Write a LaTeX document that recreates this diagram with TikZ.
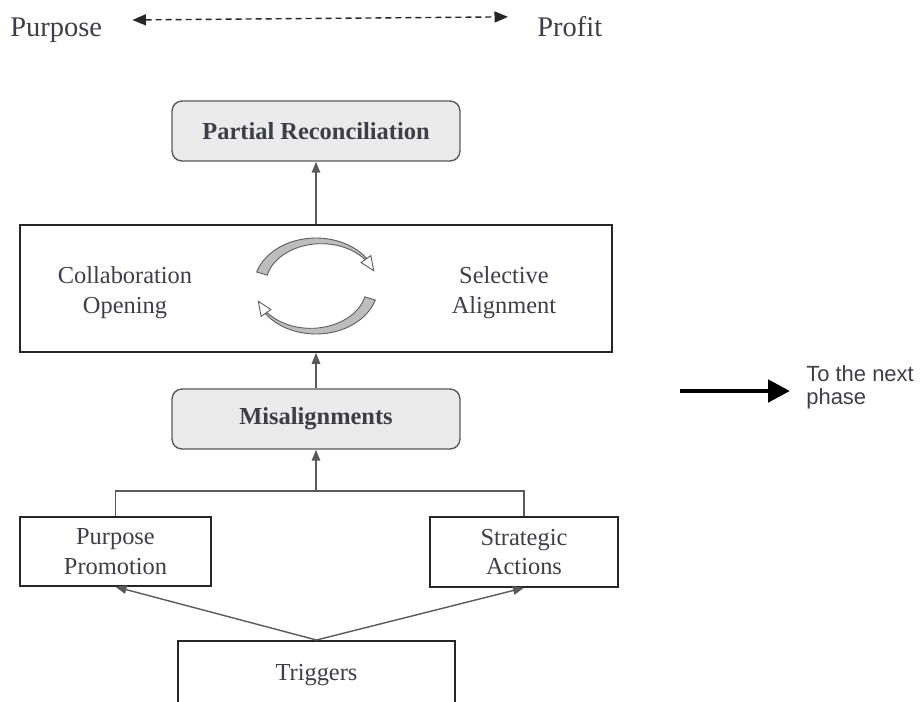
\documentclass[tikz,border=0pt]{standalone}
\usepackage{fontspec}
\setmainfont{Liberation Serif}
\setsansfont{Liberation Sans}
\usepackage[HTML]{xcolor}
\usetikzlibrary{arrows.meta}

\definecolor{txtgray}{HTML}{3E3E48}
\definecolor{boxfill}{HTML}{EBEBEB}
\definecolor{linegray}{HTML}{5A5A5A}
\definecolor{cyclefill}{HTML}{BDBDBD}

\tikzset{
  stage/.style={draw=black!85, line width=0.9pt, align=center, text=txtgray,
    font=\fontsize{13.9}{17}\selectfont, inner sep=0pt},
  result/.style={draw=linegray, fill=boxfill, rounded corners=0.2cm, line width=0.8pt,
    text=txtgray, font=\fontsize{13.9}{17}\selectfont\bfseries,
    minimum width=5.76cm, minimum height=1.2cm},
  inlbl/.style={align=center, text=txtgray, font=\fontsize{13.9}{17}\selectfont, inner sep=0pt},
  toplbl/.style={text=txtgray, font=\fontsize{16.2}{19}\selectfont, inner sep=0pt},
  link/.style={draw=linegray, line width=0.8pt, -{Triangle[length=0.22cm,width=0.17cm]}},
  dualarrow/.style={black!85, line width=0.8pt, dash pattern=on 0.12cm off 0.08cm,
    {Triangle[length=0.27cm,width=0.22cm]}-{Triangle[length=0.27cm,width=0.22cm]}},
  bigarrow/.style={black, line width=2.8pt, -{Triangle[length=0.44cm,width=0.44cm]}}
}

\begin{document}
\begin{tikzpicture}[x=0.02cm, y=-0.02cm]
\clip (0,0) rectangle (921,701);

% Purpose -- Profit scale
\node[toplbl, anchor=base west] (purp) at (10,36) {Purpose};
\node[toplbl, anchor=base west] (prof) at (537,36) {Profit};
\draw[dualarrow, shorten <=0.6cm, shorten >=0.58cm]
  ([yshift=0.19cm]purp.east) -- ([yshift=0.19cm]prof.west);

% boxes
\node[result] (recon) at (316,131) {Partial Reconciliation};
\node[stage, minimum width=11.84cm, minimum height=2.54cm] (cycle) at (316,288.5) {};
\node[inlbl] (collab) at (125,293) {Collaboration\\Opening};
\node[inlbl] (select) at (504,293) {Selective\\Alignment};
\node[result] (mis) at (316,419) {Misalignments};
\node[stage, minimum width=3.82cm, minimum height=1.38cm] (promo) at (115.5,551.5) {Purpose\\Promotion};
\node[stage, minimum width=3.76cm, minimum height=1.4cm] (strat) at (524,552) {Strategic\\Actions};
\node[stage, minimum width=5.54cm, minimum height=1.36cm, anchor=north] (trig) at (316.5,640) {Triggers};

% circular arrows
\foreach \r in {0,180}{
\begin{scope}[rotate around={\r:(316,286)}]
\filldraw[fill=cyclefill, draw=linegray, line width=0.5pt]
  plot[domain=163:35, samples=30, variable=\t] ({316+62*cos(\t)},{286-48*sin(\t)})
  -- plot[domain=35:163, samples=30, variable=\t]
     ({316+(60-9*(\t-35)/128)*cos(\t)},{286-(46-9*(\t-35)/128)*sin(\t)}) -- cycle;
\filldraw[fill=white, draw=linegray, line width=0.5pt]
  ({316+67*cos(35)},{286-53*sin(35)}) -- ({316+55*cos(35)},{286-41*sin(35)})
  -- ({316+61*cos(19)},{286-47*sin(19)}) -- cycle;
\end{scope}}

% connectors
\coordinate (join) at (316,491);
\draw[link] (cycle.north) -- (recon.south);
\draw[link] (mis.north) -- (cycle.south);
\draw[linegray, line width=0.8pt] (promo.north) |- (join) -| (strat.north);
\draw[link] (join) -- (mis.south);
\draw[link] (trig.north) -- (promo.south);
\draw[link] (trig.north) -- (strat.south);

% next phase
\coordinate (nstart) at (680,391);
\node[align=left, anchor=west, inner sep=0pt, text=txtgray,
  font=\sffamily\fontsize{12.5}{13.2}\selectfont] (next) at (806,387) {To the next\\phase};
\draw[bigarrow, shorten >=0.32cm] (nstart) -- (nstart -| next.west);
\end{tikzpicture}
\end{document}
